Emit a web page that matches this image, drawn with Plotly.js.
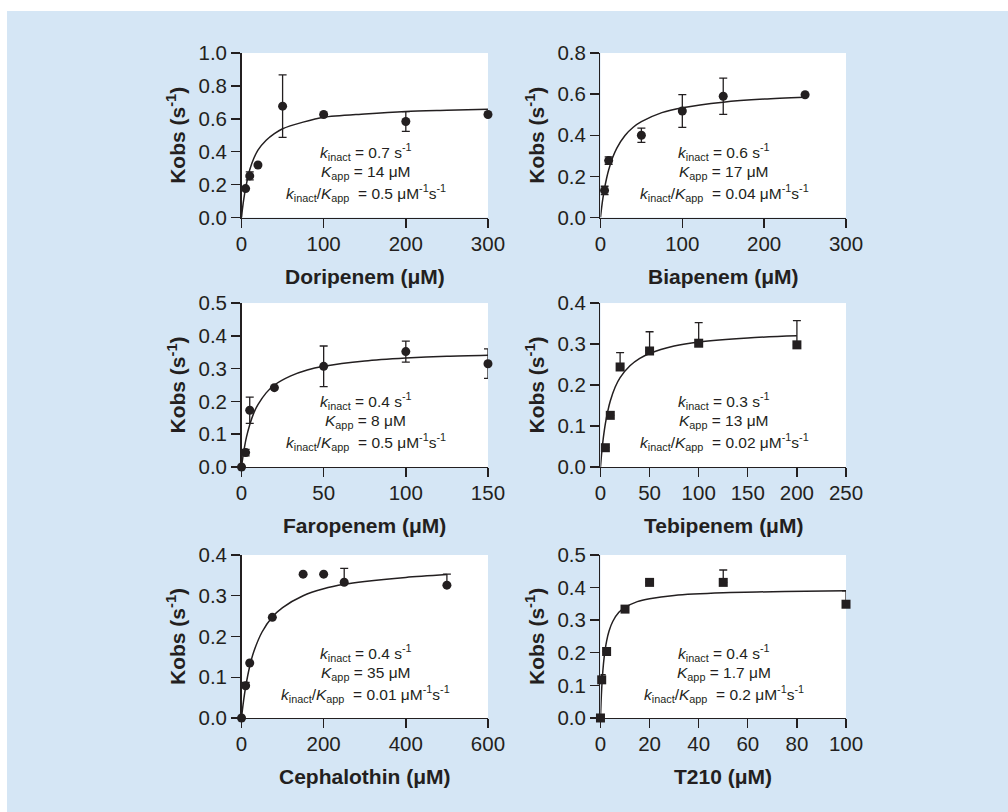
<!DOCTYPE html>
<html>
<head>
<meta charset="utf-8">
<script src="https://cdn.plot.ly/plotly-3.0.1.min.js"></script>
<style>html,body{margin:0;padding:0;background:#fff;}#chart{width:1008px;height:812px;}</style>
</head>
<body>
<div id="chart"></div>
<script>
// ---- data ----
const drugNames = ['Doripenem', 'Biapenem', 'Faropenem', 'Tebipenem', 'Cephalothin', 'T210'];
const markerSymbols = ['circle', 'circle', 'circle', 'square', 'circle', 'square'];

const doriX = [5, 10, 20, 50, 100, 200, 300];
const doriY = [0.176, 0.253, 0.319, 0.677, 0.626, 0.584, 0.626];
const doriErrUp = [0, 0.024, 0, 0.19, 0, 0.06, 0];
const doriErrDown = [0, 0.024, 0, 0.19, 0, 0.06, 0];
const doriFitX = [0, 1, 2, 3, 5, 7.5, 10, 15, 20, 30, 40, 50, 75, 100, 150, 200, 250, 300];
const doriFitY = [0, 0.046, 0.086, 0.12, 0.18, 0.24, 0.29, 0.36, 0.41, 0.47, 0.51, 0.54, 0.58, 0.61, 0.63, 0.645, 0.652, 0.658];

const biaX = [5, 10, 50, 100, 150, 250];
const biaY = [0.132, 0.277, 0.40, 0.518, 0.59, 0.597];
const biaErrUp = [0.02, 0.018, 0.035, 0.08, 0.088, 0];
const biaErrDown = [0.02, 0.018, 0.035, 0.08, 0.088, 0];
const biaFitX = [0, 1, 2, 3, 5, 7.5, 10, 15, 20, 30, 40, 50, 75, 100, 150, 200, 250];
const biaFitY = [0, 0.035, 0.066, 0.094, 0.142, 0.191, 0.231, 0.293, 0.338, 0.399, 0.439, 0.466, 0.51, 0.534, 0.561, 0.576, 0.585];

const faroX = [0, 2.5, 5, 20, 50, 100, 150];
const faroY = [0, 0.044, 0.173, 0.242, 0.307, 0.352, 0.315];
const faroErrUp = [0, 0.01, 0.04, 0, 0.062, 0.032, 0.045];
const faroErrDown = [0, 0.01, 0.04, 0, 0.062, 0.032, 0.045];
const faroFitX = [0, 1, 2, 3, 5, 7.5, 10, 15, 20, 30, 40, 50, 75, 100, 125, 150];
const faroFitY = [0, 0.036, 0.066, 0.091, 0.129, 0.165, 0.19, 0.226, 0.25, 0.278, 0.296, 0.307, 0.323, 0.332, 0.338, 0.341];

const tebiX = [5, 10, 20, 50, 100, 200];
const tebiY = [0.047, 0.126, 0.244, 0.283, 0.302, 0.298];
const tebiErrUp = [0, 0, 0.035, 0.047, 0.05, 0.059];
const tebiErrDown = [0, 0, 0, 0, 0, 0];
const tebiFitX = [0, 1, 2, 3, 5, 7.5, 10, 15, 20, 30, 40, 50, 75, 100, 150, 200];
const tebiFitY = [0, 0.028, 0.052, 0.073, 0.106, 0.137, 0.161, 0.195, 0.218, 0.247, 0.265, 0.277, 0.295, 0.305, 0.315, 0.32];

const cephX = [0, 10, 20, 75, 150, 200, 250, 500];
const cephY = [0, 0.079, 0.135, 0.247, 0.353, 0.353, 0.333, 0.326];
const cephErrUp = [0, 0.008, 0, 0, 0, 0, 0.034, 0.027];
const cephErrDown = [0, 0, 0, 0, 0, 0, 0, 0];
const cephFitX = [0, 2, 5, 10, 20, 30, 50, 75, 100, 150, 200, 250, 300, 400, 500];
const cephFitY = [0, 0.018, 0.042, 0.076, 0.127, 0.163, 0.211, 0.248, 0.271, 0.30, 0.317, 0.328, 0.335, 0.345, 0.352];

const t210X = [0, 0.5, 2.5, 10, 20, 50, 100];
const t210Y = [0, 0.117, 0.204, 0.334, 0.416, 0.416, 0.349];
const t210ErrUp = [0, 0.016, 0, 0, 0, 0.038, 0.041];
const t210ErrDown = [0, 0, 0, 0, 0, 0, 0];
const t210FitX = [0, 0.25, 0.5, 1, 1.5, 2.5, 3.5, 5, 7.5, 10, 15, 20, 30, 50, 75, 100];
const t210FitY = [0, 0.051, 0.09, 0.147, 0.186, 0.236, 0.267, 0.296, 0.324, 0.339, 0.357, 0.366, 0.376, 0.384, 0.388, 0.39];

const xRanges = [[0, 300], [0, 300], [0, 150], [0, 250], [0, 600], [0, 100]];
const xDticks = [100, 100, 50, 50, 200, 20];
const yRanges = [[0, 1.0], [0, 0.8], [0, 0.5], [0, 0.4], [0, 0.4], [0, 0.5]];
const yDticks = [0.2, 0.2, 0.1, 0.1, 0.1, 0.1];

const kinactVals = ['0.7', '0.6', '0.4', '0.3', '0.4', '0.4'];
const kappVals = ['14', '17', '8', '13', '35', '1.7'];
const ratioVals = ['0.5', '0.04', '0.5', '0.02', '0.01', '0.2'];

// ---- assemble ----
const pointsX = [doriX, biaX, faroX, tebiX, cephX, t210X];
const pointsY = [doriY, biaY, faroY, tebiY, cephY, t210Y];
const errUp = [doriErrUp, biaErrUp, faroErrUp, tebiErrUp, cephErrUp, t210ErrUp];
const errDown = [doriErrDown, biaErrDown, faroErrDown, tebiErrDown, cephErrDown, t210ErrDown];
const fitX = [doriFitX, biaFitX, faroFitX, tebiFitX, cephFitX, t210FitX];
const fitY = [doriFitY, biaFitY, faroFitY, tebiFitY, cephFitY, t210FitY];

const ink = '#231f20';
const fontFam = 'Liberation Sans, Arial, Helvetica, sans-serif';
const colDomains = [[0.2396, 0.4841], [0.5957, 0.8393]];
const rowDomains = [[0.7321, 0.9347], [0.4249, 0.6268], [0.1158, 0.3165]];

const traces = [];
const layout = {
  width: 1008, height: 812,
  margin: {l: 0, r: 0, t: 0, b: 0},
  paper_bgcolor: '#d5e6f5',
  plot_bgcolor: '#ffffff',
  showlegend: false,
  font: {family: fontFam, color: ink},
  annotations: [],
  shapes: [
    {type: 'rect', xref: 'paper', yref: 'paper', x0: 0, x1: 1, y0: 1 - 11/812, y1: 1, fillcolor: '#ffffff', line: {width: 0}, layer: 'below'},
    {type: 'rect', xref: 'paper', yref: 'paper', x0: 0, x1: 7/1008, y0: 0, y1: 1, fillcolor: '#ffffff', line: {width: 0}, layer: 'below'}
  ]
};

for (let i = 0; i < 6; i++) {
  const n = i + 1;
  const xa = n === 1 ? 'x' : 'x' + n;
  const ya = n === 1 ? 'y' : 'y' + n;
  const xkey = n === 1 ? 'xaxis' : 'xaxis' + n;
  const ykey = n === 1 ? 'yaxis' : 'yaxis' + n;
  const r = Math.floor(i / 2), c = i % 2;

  traces.push({
    type: 'scatter', mode: 'lines', x: fitX[i], y: fitY[i],
    xaxis: xa, yaxis: ya,
    line: {color: ink, width: 1.5, shape: 'spline', smoothing: 0.8},
    hoverinfo: 'skip'
  });
  traces.push({
    type: 'scatter', mode: 'markers', x: pointsX[i], y: pointsY[i],
    xaxis: xa, yaxis: ya, cliponaxis: false,
    marker: {symbol: markerSymbols[i], size: 9, color: ink},
    error_y: {type: 'data', symmetric: false, array: errUp[i], arrayminus: errDown[i],
              color: ink, thickness: 1.3, width: 4}
  });

  layout[xkey] = {
    domain: colDomains[c], anchor: ya, range: xRanges[i], dtick: xDticks[i], tick0: 0,
    showgrid: false, zeroline: false, showline: true, linecolor: ink, linewidth: 1.4,
    ticks: 'outside', ticklen: 9, tickwidth: 1.4, tickcolor: ink, ticklabelstandoff: -2,
    tickfont: {size: 20.5, color: ink, family: fontFam}, fixedrange: true
  };
  layout[ykey] = {
    domain: rowDomains[r], anchor: xa, range: yRanges[i], dtick: yDticks[i], tick0: 0,
    tickformat: '.1f',
    showgrid: false, zeroline: false, showline: true, linecolor: ink, linewidth: 1.4,
    ticks: 'outside', ticklen: 9, tickwidth: 1.4, tickcolor: ink,
    tickfont: {size: 20.5, color: ink, family: fontFam}, fixedrange: true
  };

  const xd = xa + ' domain', yd = ya + ' domain';
  // axis titles
  layout.annotations.push({
    xref: xd, yref: yd, x: 0.5, y: 0, yshift: -59, xanchor: 'center', yanchor: 'middle',
    showarrow: false, text: '<b>' + drugNames[i] + ' (μM)</b>',
    font: {size: 21, color: ink, family: fontFam}
  });
  layout.annotations.push({
    xref: xd, yref: yd, x: 0, y: 0.5, xshift: -65, xanchor: 'center', yanchor: 'middle',
    textangle: -90, showarrow: false, text: '<b>Kobs (s<sup>-1</sup>)</b>',
    font: {size: 21, color: ink, family: fontFam}
  });
  // kinetic parameter text
  const lines = [
    '<i>k</i><sub>inact</sub> = ' + kinactVals[i] + ' s<sup>-1</sup>',
    '<i>K</i><sub>app</sub> = ' + kappVals[i] + ' μM',
    '<i>k</i><sub>inact</sub>/<i>K</i><sub>app</sub>  = ' + ratioVals[i] + ' μM<sup>-1</sup>s<sup>-1</sup>'
  ];
  const ys = [0.40, 0.275, 0.15];
  for (let k = 0; k < 3; k++) {
    layout.annotations.push({
      xref: xd, yref: yd, x: 0.505, y: ys[k], xanchor: 'center', yanchor: 'middle',
      showarrow: false, text: lines[k], font: {size: 15.5, color: ink, family: fontFam}
    });
  }
}

Plotly.newPlot('chart', traces, layout, {staticPlot: true, displayModeBar: false});
</script>
</body>
</html>
